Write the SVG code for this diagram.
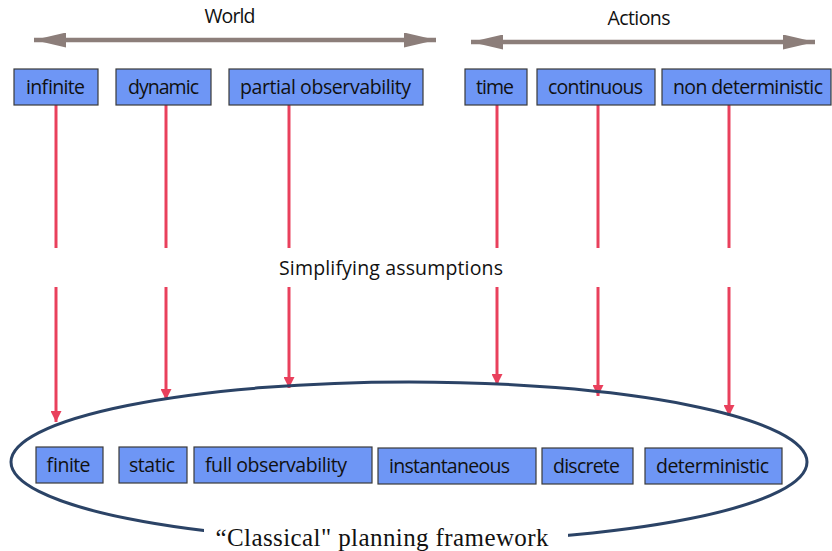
<svg xmlns="http://www.w3.org/2000/svg" width="832" height="551" viewBox="0 0 832 551">
<style>
.box{fill:#6e96f5;stroke:#3a3a3a;stroke-width:1.2}
.lbl{font-family:"Open Sans","Liberation Sans",sans-serif;font-size:19.5px;fill:#111}
.red{stroke:#e9405c;stroke-width:3;fill:none}
.gray{stroke:#8c7e7a;stroke-width:4.5;fill:none}
</style>
<defs>
<marker id="rh" viewBox="0 0 10 10" refX="10" refY="5" markerWidth="11" markerHeight="11" markerUnits="userSpaceOnUse" orient="auto"><path d="M0,0 L10,5 L0,10 Z" fill="#e9405c"/></marker>
<marker id="gh" viewBox="0 0 10 10" refX="10" refY="5" markerWidth="32" markerHeight="15" markerUnits="userSpaceOnUse" orient="auto-start-reverse" preserveAspectRatio="none"><path d="M0,0 L10,5 L0,10 Z" fill="#8c7e7a"/></marker>
</defs>
<rect width="832" height="551" fill="#fff"/>
<g id="headers">
<text class="lbl" x="230" y="23" text-anchor="middle" textLength="51">World</text>
<text class="lbl" x="639" y="25" text-anchor="middle" textLength="63">Actions</text>
<text class="lbl" x="391" y="275" text-anchor="middle" font-size="21" textLength="224">Simplifying assumptions</text>
</g>
<g id="connectors">
<line class="gray" x1="34" y1="40" x2="436" y2="40" marker-start="url(#gh)" marker-end="url(#gh)"/>
<line class="gray" x1="471" y1="42" x2="815" y2="42" marker-start="url(#gh)" marker-end="url(#gh)"/>
<line class="red" x1="56" y1="105" x2="56" y2="248"/>
<line class="red" x1="56" y1="287" x2="56" y2="422" marker-end="url(#rh)"/>
<line class="red" x1="166" y1="105" x2="166" y2="248"/>
<line class="red" x1="166" y1="287" x2="166" y2="400" marker-end="url(#rh)"/>
<line class="red" x1="289" y1="105" x2="289" y2="248"/>
<line class="red" x1="289" y1="287" x2="289" y2="388" marker-end="url(#rh)"/>
<line class="red" x1="497" y1="105" x2="497" y2="248"/>
<line class="red" x1="497" y1="287" x2="497" y2="385" marker-end="url(#rh)"/>
<line class="red" x1="598" y1="105" x2="598" y2="248"/>
<line class="red" x1="598" y1="287" x2="598" y2="396" marker-end="url(#rh)"/>
<line class="red" x1="729" y1="105" x2="729" y2="248"/>
<line class="red" x1="729" y1="287" x2="729" y2="416" marker-end="url(#rh)"/>
</g>
<g id="framework">
<ellipse cx="409" cy="462" rx="398" ry="80" fill="none" stroke="#2b4366" stroke-width="3"/>
<rect x="204" y="525" width="364" height="26" fill="#fff"/>
<text x="382" y="546" text-anchor="middle" font-family="Liberation Serif,serif" font-size="25" fill="#111" textLength="333">“Classical" planning framework</text>
</g>
<g id="n-infinite"><rect class="box" x="14" y="69" width="84" height="36"/><text class="lbl" x="26" y="94" textLength="59">infinite</text></g>
<g id="n-dynamic"><rect class="box" x="116" y="69" width="95" height="36"/><text class="lbl" x="128" y="94" textLength="71">dynamic</text></g>
<g id="n-partial"><rect class="box" x="229" y="69" width="194" height="36"/><text class="lbl" x="240" y="94" textLength="171">partial observability</text></g>
<g id="n-time"><rect class="box" x="465" y="69" width="62" height="36"/><text class="lbl" x="476" y="94" textLength="38">time</text></g>
<g id="n-continuous"><rect class="box" x="537" y="69" width="118" height="36"/><text class="lbl" x="548" y="94" textLength="95">continuous</text></g>
<g id="n-nondet"><rect class="box" x="662" y="69" width="169" height="36"/><text class="lbl" x="673" y="94" textLength="150">non deterministic</text></g>
<g id="n-finite"><rect class="box" x="36" y="447" width="67" height="36"/><text class="lbl" x="46" y="472" textLength="44">finite</text></g>
<g id="n-static"><rect class="box" x="119" y="447" width="68" height="36"/><text class="lbl" x="129" y="472" textLength="46">static</text></g>
<g id="n-full"><rect class="box" x="194" y="447" width="178" height="36"/><text class="lbl" x="205" y="472" textLength="142">full observability</text></g>
<g id="n-instant"><rect class="box" x="378" y="448" width="158" height="36"/><text class="lbl" x="389" y="473" textLength="121">instantaneous</text></g>
<g id="n-discrete"><rect class="box" x="542" y="448" width="91" height="36"/><text class="lbl" x="553" y="473" textLength="67">discrete</text></g>
<g id="n-deterministic"><rect class="box" x="645" y="448" width="137" height="36"/><text class="lbl" x="656" y="473" textLength="113">deterministic</text></g>
</svg>
